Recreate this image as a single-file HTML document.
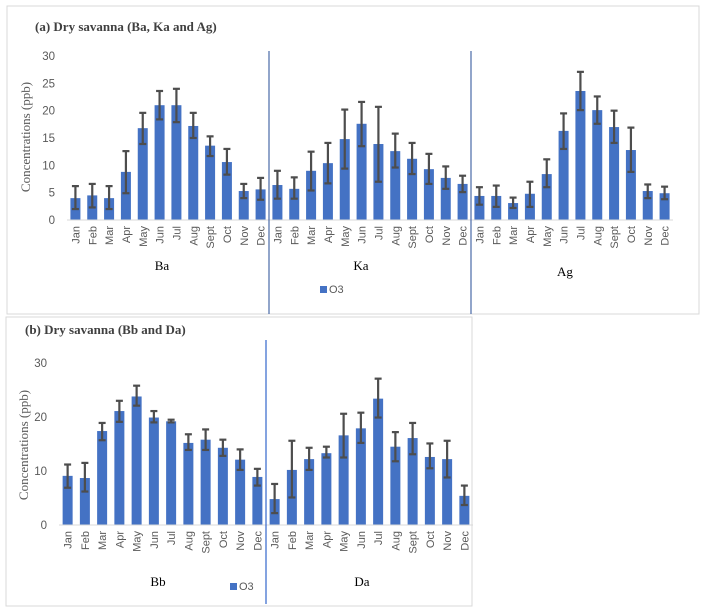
<!DOCTYPE html>
<html><head><meta charset="utf-8">
<style>
body{margin:0;background:#fff;width:708px;height:614px;overflow:hidden;font-family:"Liberation Sans",sans-serif}
svg{position:absolute;left:0;top:0}
</style></head>
<body>
<svg id="s" width="708" height="614" xmlns="http://www.w3.org/2000/svg">
<rect x="7" y="6" width="692" height="308" fill="#fff" stroke="#d9d9d9"/>
<rect x="6" y="317" width="466" height="289" fill="#fff" stroke="#d9d9d9"/>
<text x="35" y="31" font-family="Liberation Serif,serif" font-weight="bold" font-size="13" fill="#404040">(a) Dry savanna (Ba, Ka and Ag)</text>
<text x="25" y="334" font-family="Liberation Serif,serif" font-weight="bold" font-size="13" fill="#404040">(b) Dry savanna (Bb and Da)</text>
<text transform="translate(30,137) rotate(-90)" text-anchor="middle" font-family="Liberation Serif,serif" font-size="13" fill="#595959">Concentrations  (ppb)</text>
<text transform="translate(28,445) rotate(-90)" text-anchor="middle" font-family="Liberation Serif,serif" font-size="13" fill="#595959">Concentrations (ppb)</text>
<g id="ga"></g><g id="gb"></g>
</svg>
<script>
const months=["Jan","Feb","Mar","Apr","May","Jun","Jul","Aug","Sept","Oct","Nov","Dec"];
const groupsA=["Ba","Ka","Ag"];
const valuesA=[4,4.5,4,8.8,16.8,21,21,17.2,13.6,10.6,5.3,5.6, 6.4,5.7,9.0,10.4,14.8,17.6,13.9,12.6,11.2,9.3,7.7,6.6, 4.4,4.4,3.1,4.8,8.4,16.3,23.6,20.1,17.0,12.8,5.3,4.9];
const errHiA=[6.2,6.6,6.2,12.6,19.6,23.6,24,19.6,15.3,13,6.6,7.7, 9.0,7.8,12.5,14.1,20.2,21.6,20.7,15.8,14.1,12.1,9.8,8.1, 6.0,6.3,4.1,7.0,11.1,19.5,27.1,22.6,20.0,16.9,6.5,6.1];
const errLoA=[2,2.3,2,4.9,13.9,18.4,17.9,15,11.7,8.3,4,3.7, 3.9,3.9,5.4,6.7,9.4,13.5,7.0,9.6,8.4,6.6,5.7,5.1, 2.8,2.4,2.2,2.4,6.0,13.0,20.1,17.6,14.1,8.8,4.0,3.8];
const groupsB=["Bb","Da"];
const valuesB=[9.1,8.7,17.4,21.1,23.8,19.9,19.2,15.2,15.8,14.3,12.1,8.9, 4.8,10.2,12.2,13.3,16.6,17.9,23.4,14.5,16.1,12.6,12.2,5.4];
const errHiB=[11.2,11.5,18.9,23.0,25.8,21.1,19.5,16.8,17.7,15.8,14.0,10.4, 7.6,15.6,14.3,14.5,20.6,20.8,27.1,17.2,18.9,15.1,15.6,7.3];
const errLoB=[6.9,6.2,15.7,19.1,22.1,19.0,19.0,13.9,13.9,12.8,10.2,7.3, 2.2,5.1,10.2,12.5,12.5,15.2,19.9,11.8,13.1,10.5,8.8,3.7];
const ticksA=[0,5,10,15,20,25,30];
const ticksB=[0,10,20,30];
const NS="http://www.w3.org/2000/svg";
function mk(p,t,a,txt){const e=document.createElementNS(NS,t);for(const k in a)e.setAttribute(k,a[k]);if(txt!==undefined)e.textContent=txt;p.appendChild(e);return e;}
function draw(g,cfg,groups,vals,hi,lo,ticks){
  const y=v=>cfg.y0-(v/30)*(cfg.y0-cfg.y30);
  const cw=(cfg.x1-cfg.x0)/vals.length;
  const x=i=>cfg.x0+cw*(i+0.5);
  ticks.forEach(t=>{const e=mk(g,"text",{x:cfg.x0-12,y:y(t)+4,"text-anchor":"end","font-size":11.5,fill:"#595959"},t);
    
    });
  vals.forEach((v,i)=>{
    const b=mk(g,"rect",{x:x(i)-cfg.bw/2,y:y(v),width:cfg.bw,height:y(0)-y(v),fill:"#4472c4"});
    
    
    const eg=mk(g,"g",{stroke:"#4d4d4d","stroke-width":2.2});
    
    
    mk(eg,"line",{x1:x(i),x2:x(i),y1:y(hi[i]),y2:y(lo[i])});
    mk(eg,"line",{x1:x(i)-3.5,x2:x(i)+3.5,y1:y(hi[i]),y2:y(hi[i])});
    mk(eg,"line",{x1:x(i)-3.5,x2:x(i)+3.5,y1:y(lo[i]),y2:y(lo[i])});
    const t=mk(g,"text",{transform:`translate(${x(i)+4},${cfg.y0+6}) rotate(-90)`,"text-anchor":"end","font-size":11,fill:"#595959"},months[i%12]);
    
    
  });
  const ax=mk(g,"line",{x1:cfg.x0,x2:cfg.x1,y1:y(0),y2:y(0),stroke:"#d9d9d9","stroke-width":1});
  
  
  groups.forEach((gn,k)=>{
    if(k>0){const s=mk(g,"line",{x1:cfg.x0+cw*12*k,x2:cfg.x0+cw*12*k,y1:cfg.sepTop,y2:cfg.sepBot,stroke:cfg.sepColor,"stroke-width":1.2});
      
      }
    const l=mk(g,"text",{x:cfg.gx[k],y:cfg.gy[k],"text-anchor":"middle","font-family":"Liberation Serif,serif","font-size":13,fill:"#000"},gn);
    
    
  });
  const lg=mk(g,"g",{});
  
  
  mk(lg,"rect",{x:cfg.lx,y:cfg.ly-7,width:7,height:7,fill:"#4472c4"});
  mk(lg,"text",{x:cfg.lx+9,y:cfg.ly,"font-size":11,fill:"#595959"},"O3");
}
draw(document.getElementById("ga"),{x0:67,x1:673,y0:220,y30:56,bw:10,sepTop:51,sepBot:314,sepColor:"#4a6aa8",gx:[162,361,565],gy:[270,270,276],lx:320,ly:293},groupsA,valuesA,errHiA,errLoA,ticksA);
draw(document.getElementById("gb"),{x0:59,x1:473,y0:525,y30:363,bw:10,sepTop:340,sepBot:604,sepColor:"#3366cc",gx:[158,362],gy:[586,586],lx:230,ly:590},groupsB,valuesB,errHiB,errLoB,ticksB);
</script>
</body></html>
